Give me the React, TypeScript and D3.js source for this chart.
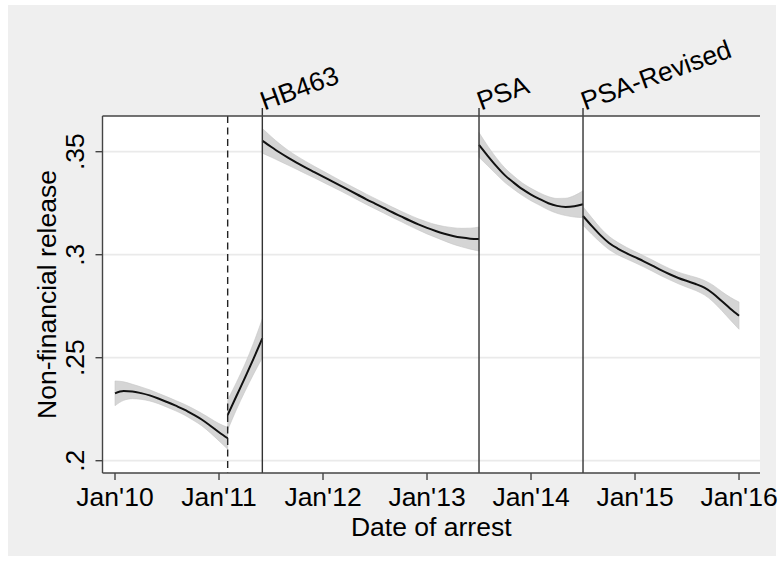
import React from "react";
import * as d3 from "d3";

// Months since Jan 2010
const xTickMonths = [0, 12, 24, 36, 48, 60, 72];
const xTickLabels = ["Jan'10", "Jan'11", "Jan'12", "Jan'13", "Jan'14", "Jan'15", "Jan'16"];
const yTickValues = [0.2, 0.25, 0.3, 0.35];
const yTickLabels = [".2", ".25", ".3", ".35"];

const eventMonths = [17, 42, 54];
const eventLabels = ["HB463", "PSA", "PSA-Revised"];
const dashedMonth = 13;

const segmentStarts = [0, 13, 17, 42, 54];
const seg1Values = [0.2327, 0.2338, 0.2336, 0.2328, 0.2317, 0.2302, 0.2285, 0.2267, 0.2248, 0.2225, 0.22, 0.217, 0.2138, 0.2109];
const seg1Half = [0.006, 0.0045, 0.0035, 0.003, 0.0027, 0.0025, 0.0025, 0.0025, 0.0026, 0.0028, 0.003, 0.0035, 0.0042, 0.0053];
const seg2Values = [0.2222, 0.2313, 0.2403, 0.2497, 0.2594];
const seg2Half = [0.0073, 0.0066, 0.0066, 0.0076, 0.0094];
const seg3Values = [0.3553, 0.3524, 0.3496, 0.347, 0.3446, 0.3423, 0.3401, 0.3379, 0.3357, 0.3335, 0.3313, 0.3291, 0.3269, 0.3248, 0.3227, 0.3206, 0.3186, 0.3166, 0.3147, 0.313, 0.3115, 0.3102, 0.3091, 0.3083, 0.3078, 0.3076];
const seg3Half = [0.006, 0.005, 0.0042, 0.0036, 0.0032, 0.003, 0.0028, 0.0027, 0.0026, 0.0025, 0.0025, 0.0025, 0.0025, 0.0025, 0.0025, 0.0025, 0.0025, 0.0026, 0.0027, 0.0029, 0.0031, 0.0035, 0.004, 0.0045, 0.0051, 0.0058];
const seg4Values = [0.3533, 0.348, 0.343, 0.3385, 0.335, 0.3318, 0.3292, 0.327, 0.325, 0.3237, 0.3232, 0.3235, 0.3245];
const seg4Half = [0.006, 0.0048, 0.004, 0.0035, 0.0032, 0.003, 0.003, 0.003, 0.0032, 0.0036, 0.0042, 0.0052, 0.0065];
const seg5Values = [0.3188, 0.314, 0.3095, 0.3057, 0.303, 0.3008, 0.2988, 0.2968, 0.2947, 0.2925, 0.2905, 0.2887, 0.2872, 0.2858, 0.284, 0.2812, 0.2775, 0.2738, 0.2704];
const seg5Half = [0.0045, 0.004, 0.0035, 0.0032, 0.003, 0.0028, 0.0027, 0.0027, 0.0027, 0.0027, 0.0027, 0.0028, 0.003, 0.0032, 0.0035, 0.004, 0.0046, 0.0055, 0.0066];

const segValues = [seg1Values, seg2Values, seg3Values, seg4Values, seg5Values];
const segHalf = [seg1Half, seg2Half, seg3Half, seg4Half, seg5Half];

const W = 781;
const H = 561;
const plotLeft = 102.5;
const plotRight = 760;
const plotTop = 116;
const plotBottom = 473;
const FONT = "'Liberation Sans', Arial, Helvetica, sans-serif";
const FS = 26.5;

export default function App() {
  const x = d3.scaleLinear().domain([(plotLeft - 115) / 8.667, (plotRight - 115) / 8.667]).range([plotLeft, plotRight]);
  const y = d3.scaleLinear().domain([0.19403, 0.36733]).range([plotBottom, plotTop]);

  const segments = segValues.map((vals, i) =>
    vals.map((v, j) => ({ m: segmentStarts[i] + j, v, h: segHalf[i][j] }))
  );

  const area = d3
    .area<{ m: number; v: number; h: number }>()
    .x((d) => x(d.m))
    .y0((d) => y(d.v - d.h))
    .y1((d) => y(d.v + d.h))
    .curve(d3.curveMonotoneX);
  const line = d3
    .line<{ m: number; v: number; h: number }>()
    .x((d) => x(d.m))
    .y((d) => y(d.v))
    .curve(d3.curveMonotoneX);

  const axisColor = "#444";

  return (
    <svg width={W} height={H} style={{ position: "absolute", left: 0, top: 0, background: "#fff" }} fontFamily={FONT}>
      <rect x={8} y={5} width={768} height={551} fill="#efefef" />
      <rect x={plotLeft} y={plotTop} width={plotRight - plotLeft} height={plotBottom - plotTop} fill="#fff" />
      <defs>
        <clipPath id="plotclip">
          <rect x={plotLeft} y={plotTop} width={plotRight - plotLeft} height={plotBottom - plotTop} />
        </clipPath>
      </defs>
      {/* gridlines */}
      {yTickValues.map((t) => (
        <line key={"g" + t} x1={plotLeft} x2={plotRight} y1={y(t)} y2={y(t)} stroke="#eaeaea" strokeWidth={1.8} />
      ))}
      {/* bands and lines */}
      <g clipPath="url(#plotclip)">
        {segments.map((s, i) => (
          <path key={"a" + i} d={area(s) || ""} fill="#d5d5d5" stroke="#c6c6c6" strokeWidth={0.6} />
        ))}
        {segments.map((s, i) => (
          <path key={"l" + i} d={line(s) || ""} fill="none" stroke="#111" strokeWidth={2} />
        ))}
      </g>
      {/* event lines */}
      <line x1={x(dashedMonth)} x2={x(dashedMonth)} y1={plotTop} y2={plotBottom} stroke="#222" strokeWidth={1.4} strokeDasharray="7,4.5" />
      {eventMonths.map((m) => (
        <line key={"e" + m} x1={x(m)} x2={x(m)} y1={plotTop - 8} y2={plotBottom} stroke="#333" strokeWidth={1.4} />
      ))}
      {/* axes */}
      <line x1={plotLeft} x2={plotRight} y1={plotTop} y2={plotTop} stroke={axisColor} strokeWidth={1.4} />
      <line x1={plotLeft} x2={plotLeft} y1={plotTop} y2={plotBottom} stroke={axisColor} strokeWidth={1.4} />
      <line x1={plotLeft} x2={plotRight} y1={plotBottom} y2={plotBottom} stroke={axisColor} strokeWidth={1.4} />
      {/* x ticks */}
      {xTickMonths.map((m, i) => (
        <g key={"xt" + m}>
          <line x1={x(m)} x2={x(m)} y1={plotBottom} y2={plotBottom + 7} stroke={axisColor} strokeWidth={1.4} />
          <text x={x(m)} y={505.5} textAnchor="middle" fontSize={FS} fill="#000">
            {xTickLabels[i]}
          </text>
        </g>
      ))}
      {/* y ticks */}
      {yTickValues.map((t, i) => (
        <g key={"yt" + t}>
          <line x1={plotLeft - 7} x2={plotLeft} y1={y(t)} y2={y(t)} stroke={axisColor} strokeWidth={1.4} />
          <text
            transform={`translate(${83.5},${y(t)}) rotate(-90)`}
            textAnchor="middle"
            fontSize={FS}
            fill="#000"
          >
            {yTickLabels[i]}
          </text>
        </g>
      ))}
      {/* top event labels */}
      {eventMonths.map((m, i) => (
        <text key={"el" + m} transform={`translate(${x(m) + 2},${110.5}) rotate(-20)`} fontSize={FS} fill="#000">
          {eventLabels[i]}
        </text>
      ))}
      {/* axis titles */}
      <text x={(plotLeft + plotRight) / 2} y={536} textAnchor="middle" fontSize={FS} fill="#000">
        Date of arrest
      </text>
      <text transform={`translate(${56},${(plotTop + plotBottom) / 2}) rotate(-90)`} textAnchor="middle" fontSize={FS} fill="#000">
        Non-financial release
      </text>
    </svg>
  );
}
